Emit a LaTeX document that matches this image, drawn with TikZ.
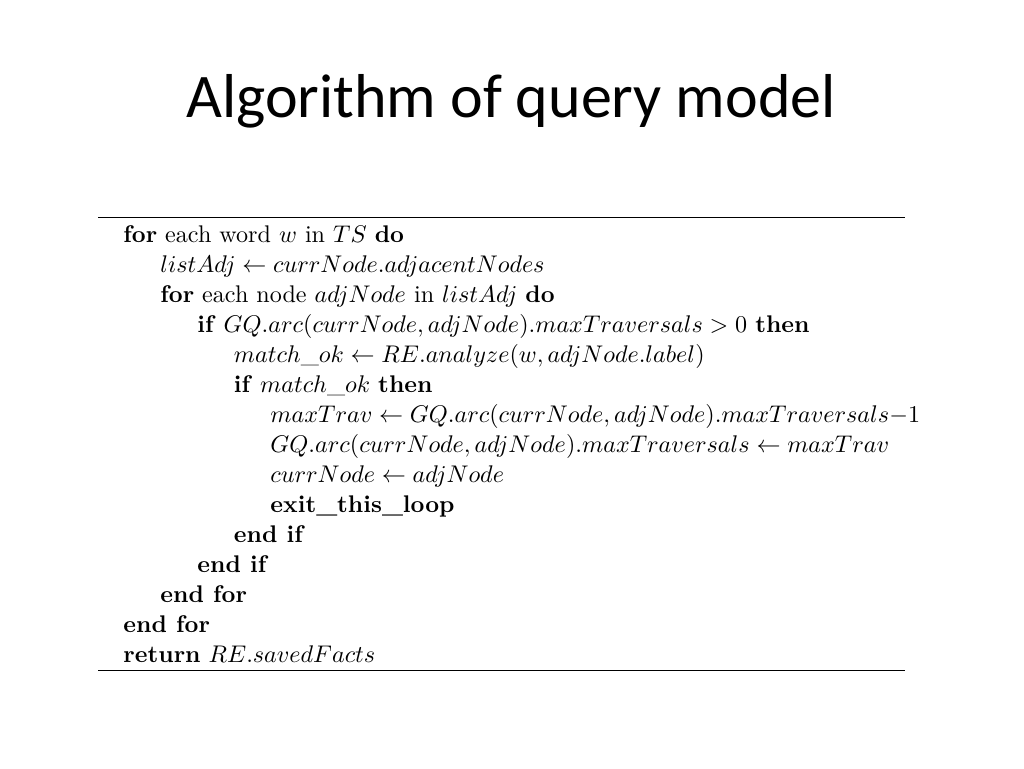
\documentclass[tikz,border=0pt]{standalone}
\usepackage{fontspec}
\newfontfamily\titlefont{Carlito}
\begin{document}
\begin{tikzpicture}[x=1pt,y=-1pt,
  algline/.style={anchor=base west,inner sep=0pt,scale=2.41,font=\fontsize{10}{12}\selectfont},
  titletext/.style={anchor=base,inner sep=0pt,font=\titlefont\fontsize{62}{70}\selectfont}]
\useasboundingbox (0,0) rectangle (1024,768);
\node[titletext] (title) at (511,117) {Algorithm of query model};
\coordinate (r1a) at (98,217.5);
\coordinate (r1b) at (905,217.5);
\coordinate (r2a) at (98,670);
\coordinate (r2b) at (905,670);
\draw[line width=1.8pt] (r1a) -- (r1b);
\draw[line width=1pt] (r2a) -- (r2b);
\def\la{123}\def\lb{160}\def\lc{197}\def\ld{233.5}\def\le{270}
\node[algline] (l1) at (\la,242) {\textbf{for} each word $w$ in $TS$ \textbf{do}};
\node[algline] (l2) at (\lb,272) {$listAdj \leftarrow currNode.adjacentNodes$};
\node[algline] (l3) at (\lb,302) {\textbf{for} each node $adjNode$ in $listAdj$ \textbf{do}};
\node[algline] (l4) at (\lc,332) {\textbf{if} $GQ.arc(currNode,adjNode).maxTraversals>0$ \textbf{then}};
\node[algline] (l5) at (\ld,362) {$match\_ok \leftarrow RE.analyze(w,adjNode.label)$};
\node[algline] (l6) at (\ld,392) {\textbf{if} $match\_ok$ \textbf{then}};
\node[algline] (l7) at (\le,422) {$maxTrav \leftarrow GQ.arc(currNode,adjNode).maxTraversals{-}1$};
\node[algline] (l8) at (\le,452) {$GQ.arc(currNode,adjNode).maxTraversals \leftarrow maxTrav$};
\node[algline] (l9) at (\le,482) {$currNode \leftarrow adjNode$};
\node[algline] (l10) at (\le,512) {\textbf{exit\_this\_loop}};
\node[algline] (l11) at (\ld,542) {\textbf{end if}};
\node[algline] (l12) at (\lc,572) {\textbf{end if}};
\node[algline] (l13) at (\lb,602) {\textbf{end for}};
\node[algline] (l14) at (\la,632) {\textbf{end for}};
\node[algline] (l15) at (\la,662) {\textbf{return} $RE.savedFacts$};
\end{tikzpicture}
\end{document}
